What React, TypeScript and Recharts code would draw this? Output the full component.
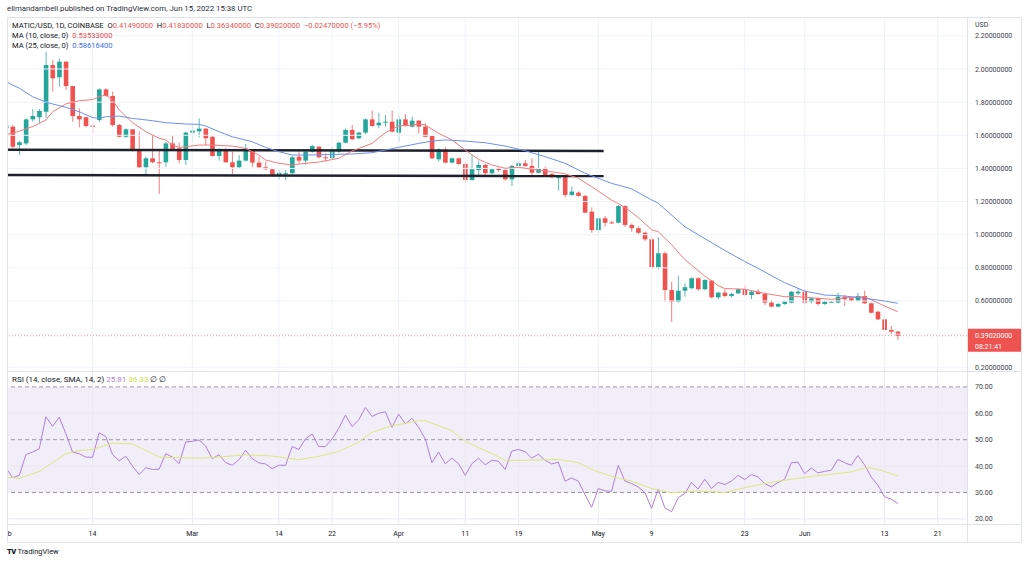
import React from 'react';
import { ComposedChart, Bar, Line, XAxis, YAxis, ReferenceLine, ReferenceArea } from 'recharts';

// ---------- data (day index 0 = Feb 1, 2022) ----------
const opens = [
  1.644, 1.652, 1.541, 1.551, 1.696, 1.709, 1.742, 2.024, 1.95, 2.044,
  1.897, 1.716, 1.709, 1.658, 1.692, 1.877, 1.837, 1.662, 1.591, 1.636,
  1.511, 1.407, 1.461, 1.437, 1.437, 1.551, 1.521, 1.451, 1.616, 1.624,
  1.64, 1.591, 1.475, 1.515, 1.437, 1.407, 1.447, 1.507, 1.435, 1.407,
  1.395, 1.356, 1.367, 1.371, 1.471, 1.447, 1.501, 1.531, 1.467, 1.461,
  1.501, 1.555, 1.632, 1.582, 1.616, 1.696, 1.66, 1.676, 1.682, 1.616,
  1.696, 1.652, 1.688, 1.652, 1.596, 1.455, 1.515, 1.435, 1.461, 1.427,
  1.33, 1.39, 1.421, 1.371, 1.401, 1.39, 1.334, 1.415, 1.431, 1.415,
  1.374, 1.401, 1.367, 1.341, 1.356, 1.24, 1.254, 1.234, 1.139, 1.028,
  1.099, 1.074, 1.072, 1.173, 1.059, 1.039, 1.012, 0.972, 0.803, 0.888,
  0.666, 0.596, 0.662, 0.677, 0.737, 0.671, 0.723, 0.622, 0.65, 0.63,
  0.646, 0.671, 0.636, 0.656, 0.642, 0.59, 0.566, 0.582, 0.59, 0.646,
  0.656, 0.596, 0.616, 0.582, 0.592, 0.59, 0.626, 0.616, 0.602, 0.63,
  0.586, 0.535, 0.489, 0.425, 0.4149,
];
const highs = [
  1.672, 1.662, 1.566, 1.704, 1.759, 1.759, 2.104, 2.054, 2.064, 2.048,
  1.897, 1.763, 1.712, 1.682, 1.883, 1.883, 1.863, 1.668, 1.642, 1.638,
  1.622, 1.471, 1.602, 1.511, 1.561, 1.596, 1.555, 1.622, 1.668, 1.702,
  1.642, 1.593, 1.521, 1.521, 1.501, 1.481, 1.547, 1.511, 1.471, 1.441,
  1.401, 1.39, 1.39, 1.475, 1.501, 1.507, 1.541, 1.535, 1.491, 1.531,
  1.561, 1.642, 1.662, 1.622, 1.702, 1.749, 1.736, 1.722, 1.749, 1.722,
  1.728, 1.712, 1.692, 1.672, 1.598, 1.521, 1.527, 1.465, 1.465, 1.441,
  1.481, 1.447, 1.427, 1.401, 1.405, 1.395, 1.421, 1.447, 1.451, 1.461,
  1.501, 1.411, 1.371, 1.36, 1.36, 1.29, 1.26, 1.24, 1.165, 1.109,
  1.113, 1.084, 1.179, 1.179, 1.068, 1.049, 1.018, 0.984, 0.984, 0.898,
  0.716, 0.751, 0.707, 0.743, 0.743, 0.731, 0.727, 0.656, 0.67, 0.65,
  0.677, 0.697, 0.666, 0.671, 0.65, 0.606, 0.588, 0.602, 0.66, 0.677,
  0.671, 0.622, 0.622, 0.602, 0.6, 0.65, 0.636, 0.626, 0.65, 0.662,
  0.59, 0.541, 0.495, 0.449, 0.4183,
];
const lows = [
  1.628, 1.523, 1.481, 1.541, 1.682, 1.674, 1.704, 1.863, 1.893, 1.873,
  1.682, 1.648, 1.648, 1.602, 1.682, 1.833, 1.652, 1.588, 1.584, 1.501,
  1.401, 1.356, 1.431, 1.246, 1.41, 1.507, 1.431, 1.421, 1.561, 1.588,
  1.541, 1.471, 1.447, 1.435, 1.367, 1.401, 1.441, 1.407, 1.401, 1.39,
  1.354, 1.33, 1.33, 1.367, 1.431, 1.421, 1.495, 1.461, 1.441, 1.451,
  1.491, 1.551, 1.572, 1.576, 1.608, 1.652, 1.642, 1.652, 1.616, 1.561,
  1.652, 1.648, 1.612, 1.588, 1.457, 1.441, 1.431, 1.431, 1.421, 1.314,
  1.326, 1.36, 1.36, 1.367, 1.38, 1.326, 1.294, 1.405, 1.41, 1.36,
  1.371, 1.354, 1.341, 1.266, 1.226, 1.234, 1.23, 1.129, 1.012, 1.012,
  1.048, 1.066, 1.068, 1.048, 1.018, 0.998, 0.962, 0.787, 0.791, 0.596,
  0.475, 0.59, 0.626, 0.67, 0.66, 0.666, 0.616, 0.61, 0.622, 0.622,
  0.642, 0.63, 0.61, 0.638, 0.576, 0.562, 0.562, 0.576, 0.586, 0.636,
  0.582, 0.586, 0.572, 0.576, 0.588, 0.586, 0.572, 0.596, 0.596, 0.582,
  0.525, 0.485, 0.401, 0.395, 0.3634,
];
const closes = [
  1.66, 1.531, 1.558, 1.696, 1.716, 1.747, 2.024, 1.944, 2.044, 1.897,
  1.716, 1.696, 1.656, 1.654, 1.877, 1.837, 1.662, 1.591, 1.636, 1.511,
  1.407, 1.461, 1.437, 1.435, 1.551, 1.515, 1.451, 1.616, 1.628, 1.64,
  1.582, 1.475, 1.511, 1.437, 1.407, 1.447, 1.521, 1.435, 1.407, 1.395,
  1.356, 1.374, 1.371, 1.467, 1.447, 1.501, 1.535, 1.467, 1.465, 1.511,
  1.555, 1.632, 1.576, 1.616, 1.696, 1.656, 1.676, 1.682, 1.622, 1.696,
  1.656, 1.688, 1.652, 1.591, 1.461, 1.515, 1.435, 1.461, 1.427, 1.33,
  1.395, 1.421, 1.371, 1.395, 1.39, 1.334, 1.415, 1.431, 1.415, 1.374,
  1.401, 1.36, 1.347, 1.356, 1.24, 1.26, 1.234, 1.133, 1.028, 1.099,
  1.072, 1.072, 1.173, 1.059, 1.039, 1.012, 0.972, 0.803, 0.888, 0.666,
  0.596, 0.662, 0.683, 0.737, 0.671, 0.727, 0.622, 0.65, 0.63, 0.642,
  0.671, 0.636, 0.656, 0.642, 0.59, 0.566, 0.582, 0.596, 0.656, 0.656,
  0.59, 0.616, 0.582, 0.596, 0.596, 0.626, 0.61, 0.602, 0.63, 0.586,
  0.529, 0.489, 0.425, 0.415, 0.3902,
];

const ma10Days = [0, 1, 4, 6, 7, 9, 11, 13, 14, 15, 16, 17, 19, 21, 23, 24, 25, 26, 27, 29, 31, 34, 36, 38, 39, 41, 43, 45, 47, 50, 52, 55, 57, 59, 61, 62, 63, 65, 67, 69, 71, 73, 75, 77, 80, 82, 84, 86, 88, 91, 93, 95, 97, 98, 100, 102, 105, 107, 108, 111, 114, 117, 119, 122, 124, 127, 129, 130, 132, 134];
const ma10Values = [1.605, 1.612, 1.652, 1.692, 1.742, 1.789, 1.809, 1.815, 1.833, 1.843, 1.813, 1.753, 1.676, 1.622, 1.582, 1.572, 1.541, 1.527, 1.531, 1.541, 1.541, 1.535, 1.521, 1.481, 1.451, 1.431, 1.421, 1.431, 1.438, 1.461, 1.505, 1.551, 1.616, 1.656, 1.662, 1.668, 1.662, 1.612, 1.572, 1.511, 1.455, 1.421, 1.401, 1.407, 1.39, 1.38, 1.367, 1.341, 1.29, 1.209, 1.165, 1.104, 1.03, 1.018, 0.94, 0.85, 0.75, 0.693, 0.675, 0.671, 0.646, 0.626, 0.626, 0.616, 0.61, 0.622, 0.626, 0.607, 0.57, 0.53533];

const ma25Days = [0, 2, 4, 6, 7, 9, 11, 13, 14, 15, 17, 19, 22, 24, 27, 29, 30, 32, 34, 37, 39, 41, 43, 46, 48, 52, 55, 59, 62, 64, 66, 69, 72, 75, 78, 81, 84, 87, 91, 94, 97, 98, 102, 108, 111, 113, 117, 120, 123, 126, 129, 132, 134];
const ma25Values = [1.923, 1.884, 1.833, 1.8, 1.789, 1.769, 1.742, 1.707, 1.702, 1.712, 1.716, 1.702, 1.688, 1.676, 1.668, 1.666, 1.656, 1.622, 1.591, 1.561, 1.527, 1.501, 1.481, 1.481, 1.483, 1.487, 1.495, 1.527, 1.551, 1.565, 1.572, 1.565, 1.555, 1.535, 1.507, 1.471, 1.431, 1.371, 1.31, 1.277, 1.21, 1.19, 1.048, 0.905, 0.838, 0.797, 0.71, 0.66, 0.636, 0.63, 0.616, 0.6, 0.586164];

const rsiValues = [
  39.3, 35.6, 36.5, 44.4, 45.3, 46.6, 58.7, 55.1, 58.5, 52.2,
  45.3, 44.7, 43.4, 43.3, 52.6, 51.2, 44.4, 42.0, 43.8, 40.0,
  36.8, 39.4, 38.7, 38.8, 44.7, 43.4, 40.9, 49.1, 49.4, 49.9,
  47.6, 42.8, 44.3, 41.3, 40.3, 42.4, 46.0, 42.8, 41.2, 40.8,
  39.0, 40.3, 40.3, 47.4, 46.3, 50.3, 52.2, 47.4, 47.4, 50.3,
  54.3, 59.3, 55.0, 57.5, 62.2, 58.8, 60.0, 60.6, 54.7, 59.7,
  56.0, 58.1, 54.7, 50.3, 41.3, 45.3, 40.9, 43.0, 40.9, 36.5,
  40.9, 43.0, 40.5, 42.2, 41.8, 38.7, 45.7, 46.3, 45.5, 43.0,
  44.5, 42.2, 40.8, 41.5, 34.3, 35.5, 34.3, 29.2, 24.4, 31.5,
  30.6, 30.5, 40.3, 34.3, 33.4, 32.1, 30.0, 24.0, 31.3, 24.2,
  22.7, 28.0, 29.6, 33.8, 31.3, 35.0, 31.5, 33.8, 33.0, 34.3,
  36.5, 34.9, 36.8, 35.9, 33.4, 32.1, 33.8, 35.0, 41.3, 41.5,
  37.1, 39.3, 37.4, 38.0, 38.4, 42.5, 41.3, 40.3, 44.0, 40.5,
  35.9, 32.8, 28.4, 27.5, 25.81,
];

const rsiMaDays = [0, 2, 5, 7, 9, 11, 13, 16, 19, 21, 23, 26, 29, 32, 36, 40, 44, 47, 50, 53, 55, 58, 60, 62, 63, 67, 69, 71, 73, 75, 78, 83, 86, 88, 91, 94, 97, 100, 104, 108, 111, 114, 118, 121, 124, 127, 129, 130, 132, 134];
const rsiMaValues = [35.9, 35.3, 38.0, 41.3, 44.7, 45.9, 46.3, 48.7, 48.4, 45.9, 43.4, 43.2, 43.0, 43.4, 44.3, 43.8, 42.4, 43.7, 45.5, 49.1, 52.8, 55.3, 56.2, 57.2, 57.2, 53.4, 49.4, 47.0, 44.8, 42.2, 42.2, 42.5, 41.3, 38.7, 36.1, 34.3, 31.5, 29.9, 30.6, 30.0, 31.8, 33.4, 35.0, 36.1, 36.9, 37.8, 39.3, 39.3, 38.0, 36.33];

// support / resistance lines: [startDay, startPrice, endDay, endPrice]
const upperLevel = [0.15, 1.513, 89.8, 1.505];
const lowerLevel = [0.15, 1.36, 89.8, 1.354];

const timeTickDays = [0, 13, 28, 41, 49, 59, 69, 77, 89, 97, 111, 120, 132, 140];
const timeTickLabels = ['Feb', '14', 'Mar', '14', '22', 'Apr', '11', '19', 'May', '9', '23', 'Jun', '13', '21'];
const priceTicks = [0.2, 0.4, 0.6, 0.8, 1.0, 1.2, 1.4, 1.6, 1.8, 2.0, 2.2];
const priceTickLabels = ['0.20000000', '0.40000000', '0.60000000', '0.80000000', '1.00000000', '1.20000000', '1.40000000', '1.60000000', '1.80000000', '2.00000000', '2.20000000'];
const rsiTicks = [20, 30, 40, 50, 60, 70];
const rsiTickLabels = ['20.00', '30.00', '40.00', '50.00', '60.00', '70.00'];
const rsiGridLevels = [20, 40, 60];
const rsiBandLevels = [30, 50, 70];

// ---------- styling ----------
const FONT = 'Roboto, "Liberation Sans", sans-serif';
const GREEN = '#26a69a';
const RED = '#ef5350';
const GRID = '#f0f3fa';
const FRAME = '#e0e3eb';
const TEXT = '#131722';
const AXIS_TEXT = '#3a3e4a';
const MA10_COLOR = '#f47b7e';
const MA25_COLOR = '#6e8ff2';
const RSI_COLOR = '#b07fdd';
const RSI_MA_COLOR = '#dde77a';
const X_DOMAIN: [number, number] = [0.15, 144.4];
const PRICE_DOMAIN: [number, number] = [0.1774, 2.3078];
const RSI_DOMAIN: [number, number] = [18.06, 75.65];

const lastClose = closes[closes.length - 1];

const Candle = (props: any) => {
  const { x, y, width, height, payload } = props;
  if (!payload || x == null || y == null) return null;
  const { open, high, low, close } = payload;
  const top = Math.min(y, y + height);
  const bottom = Math.max(y, y + height);
  const span = high - low;
  const toY = (p: number) => (span === 0 ? top : top + ((high - p) / span) * (bottom - top));
  const cx = x + width / 2;
  const color = close >= open ? GREEN : RED;
  const bTop = toY(Math.max(open, close));
  const bBot = toY(Math.min(open, close));
  return (
    <g>
      <line x1={cx} x2={cx} y1={top} y2={bottom} stroke={color} strokeOpacity={0.75} strokeWidth={1} />
      <rect x={cx - 2.3} y={bTop} width={4.6} height={Math.max(1, bBot - bTop)} fill={color} />
    </g>
  );
};

const PriceTick = (props: any) => {
  const { x, y, payload } = props;
  // the label next to the last price is covered by the price tag
  if (Math.abs(payload.value - lastClose) < 0.06) return null;
  const idx = priceTicks.indexOf(payload.value);
  return (
    <text x={x + 8} y={y} dy={2.5} fontSize={7} fill={AXIS_TEXT} fontFamily={FONT}>
      {priceTickLabels[idx]}
    </text>
  );
};

const RsiTick = (props: any) => {
  const { x, y, payload } = props;
  const idx = rsiTicks.indexOf(payload.value);
  return (
    <text x={x + 8} y={y} dy={2.5} fontSize={7} fill={AXIS_TEXT} fontFamily={FONT}>
      {rsiTickLabels[idx]}
    </text>
  );
};

const TimeTick = (props: any) => {
  const { x, y, payload } = props;
  const idx = timeTickDays.indexOf(payload.value);
  return (
    <text x={x} y={y + 9} dy={2.5} fontSize={7} fill={TEXT} textAnchor="middle" fontFamily={FONT}>
      {timeTickLabels[idx]}
    </text>
  );
};

const PriceTag = (props: any) => {
  const vb = props.viewBox;
  if (!vb) return null;
  const x = vb.x + vb.width;
  const y = vb.y;
  return (
    <g>
      <rect x={x} y={y - 7} width={54} height={23} fill={RED} />
      <text x={x + 8} y={y} dy={2.5} fontSize={7} fill="#fff" fontFamily={FONT}>
        {lastClose.toFixed(8)}
      </text>
      <text x={x + 8} y={y + 10.5} dy={2.5} fontSize={7} fill="#fff" fontFamily={FONT}>
        08:21:41
      </text>
    </g>
  );
};

const fmt = (v: number) => v.toFixed(8).replace('-', '\u2212');

export default function App() {
  const candleData = opens.map((o, i) => ({
    day: i,
    open: o,
    high: highs[i],
    low: lows[i],
    close: closes[i],
    range: [lows[i], highs[i]],
  }));
  const ma10Data = ma10Days.map((d, i) => ({ day: d, v: ma10Values[i] }));
  const ma25Data = ma25Days.map((d, i) => ({ day: d, v: ma25Values[i] }));
  const rsiData = rsiValues.map((v, i) => ({ day: i, v }));
  const rsiMaData = rsiMaDays.map((d, i) => ({ day: d, v: rsiMaValues[i] }));

  const n = closes.length - 1;
  const o = opens[n], h = highs[n], l = lows[n], c = closes[n];
  const chg = c - o;
  const pct = (chg / o) * 100;

  const redSpan = { color: RED };
  const lineStyle: React.CSSProperties = { position: 'absolute', background: FRAME };
  const legendStyle: React.CSSProperties = { position: 'absolute', left: 12, fontSize: 7.6, lineHeight: '10px', color: TEXT, whiteSpace: 'pre' };

  return (
    <div style={{ position: 'fixed', left: 0, top: 0, width: 1024, height: 565, background: '#fff', overflow: 'hidden', fontFamily: FONT }}>
      <div style={{ position: 'absolute', left: 7, top: 3, fontSize: 7.8, lineHeight: '12px', color: '#2a2e39', whiteSpace: 'pre' }}>
        elimandambell published on TradingView.com, Jun 15, 2022 15:38 UTC
      </div>

      <div style={{ position: 'absolute', left: 7, top: 18 }}>
        <ComposedChart width={1014} height={353} data={candleData} margin={{ top: 0, right: 0, bottom: 0, left: 0 }}>
          <XAxis dataKey="day" type="number" domain={X_DOMAIN} allowDataOverflow hide />
          <YAxis
            orientation="right"
            type="number"
            domain={PRICE_DOMAIN}
            allowDataOverflow
            ticks={priceTicks}
            interval={0}
            width={54}
            axisLine={false}
            tickLine={false}
            tickSize={0}
            tickMargin={0}
            tick={<PriceTick />}
          />
          {priceTicks.map((t) => (
            <ReferenceLine key={'hp' + t} y={t} stroke={GRID} strokeWidth={1} />
          ))}
          {timeTickDays.map((d) => (
            <ReferenceLine key={'vp' + d} x={d} stroke={GRID} strokeWidth={1} />
          ))}
          <ReferenceLine
            segment={[{ x: upperLevel[0], y: upperLevel[1] }, { x: upperLevel[2], y: upperLevel[3] }]}
            stroke="#1e222d"
            strokeWidth={2.5}
            ifOverflow="visible"
          />
          <ReferenceLine
            segment={[{ x: lowerLevel[0], y: lowerLevel[1] }, { x: lowerLevel[2], y: lowerLevel[3] }]}
            stroke="#1e222d"
            strokeWidth={2.5}
            ifOverflow="visible"
          />
          <Bar dataKey="range" barSize={5} shape={<Candle />} isAnimationActive={false} />
          <Line data={ma10Data} dataKey="v" type="linear" stroke={MA10_COLOR} strokeWidth={1} dot={false} activeDot={false} isAnimationActive={false} />
          <Line data={ma25Data} dataKey="v" type="linear" stroke={MA25_COLOR} strokeWidth={1} dot={false} activeDot={false} isAnimationActive={false} />
          <ReferenceLine y={lastClose} stroke={RED} strokeOpacity={0.6} strokeDasharray="1 2" label={<PriceTag />} />
        </ComposedChart>
      </div>

      <div style={{ position: 'absolute', left: 7, top: 372 }}>
        <ComposedChart width={1014} height={170} data={rsiData} margin={{ top: 0, right: 0, bottom: 0, left: 0 }}>
          <XAxis
            dataKey="day"
            type="number"
            domain={X_DOMAIN}
            allowDataOverflow
            ticks={timeTickDays}
            interval={0}
            height={18}
            axisLine={false}
            tickLine={false}
            tickSize={0}
            tickMargin={0}
            tick={<TimeTick />}
          />
          <YAxis
            orientation="right"
            type="number"
            domain={RSI_DOMAIN}
            allowDataOverflow
            ticks={rsiTicks}
            interval={0}
            width={54}
            axisLine={false}
            tickLine={false}
            tickSize={0}
            tickMargin={0}
            tick={<RsiTick />}
          />
          <ReferenceArea y1={30} y2={70} fill="#7e57c2" fillOpacity={0.1} stroke="none" />
          {rsiGridLevels.map((t) => (
            <ReferenceLine key={'hr' + t} y={t} stroke="#ebe8f3" strokeWidth={1} />
          ))}
          {timeTickDays.map((d) => (
            <ReferenceLine key={'vr' + d} x={d} stroke="#ebe8f3" strokeWidth={1} />
          ))}
          {rsiBandLevels.map((t) => (
            <ReferenceLine key={'br' + t} y={t} stroke="#9a97a5" strokeWidth={1} strokeDasharray="4 3" />
          ))}
          <Line dataKey="v" type="linear" stroke={RSI_COLOR} strokeWidth={1} dot={false} activeDot={false} isAnimationActive={false} />
          <Line data={rsiMaData} dataKey="v" type="linear" stroke={RSI_MA_COLOR} strokeWidth={1} dot={false} activeDot={false} isAnimationActive={false} />
        </ComposedChart>
      </div>

      {/* frame & separators */}
      <div style={{ ...lineStyle, left: 7, top: 17, width: 1015, height: 1 }} />
      <div style={{ ...lineStyle, left: 7, top: 542, width: 1015, height: 1 }} />
      <div style={{ ...lineStyle, left: 7, top: 17, width: 1, height: 526 }} />
      <div style={{ ...lineStyle, left: 1021, top: 17, width: 1, height: 526 }} />
      <div style={{ ...lineStyle, left: 7, top: 371, width: 1015, height: 1 }} />
      <div style={{ ...lineStyle, left: 7, top: 524, width: 1015, height: 1 }} />
      <div style={{ ...lineStyle, left: 967, top: 17, width: 1, height: 526 }} />

      {/* legends */}
      <div style={{ ...legendStyle, top: 20.5 }}>
        {'MATIC/USD, 1D, COINBASE  O'}
        <span style={redSpan}>{o.toFixed(8)}</span>
        {'  H'}
        <span style={redSpan}>{h.toFixed(8)}</span>
        {'  L'}
        <span style={redSpan}>{l.toFixed(8)}</span>
        {'  C'}
        <span style={redSpan}>{c.toFixed(8)}</span>
        {'  '}
        <span style={redSpan}>{fmt(chg) + ' (' + pct.toFixed(2).replace('-', '\u2212') + '%)'}</span>
      </div>
      <div style={{ ...legendStyle, top: 31 }}>
        {'MA (10, close, 0)  '}
        <span style={{ color: '#f04a4f' }}>{ma10Values[ma10Values.length - 1].toFixed(8)}</span>
      </div>
      <div style={{ ...legendStyle, top: 41 }}>
        {'MA (25, close, 0)  '}
        <span style={{ color: '#3a6ff5' }}>{ma25Values[ma25Values.length - 1].toFixed(6) + '00'}</span>
      </div>
      <div style={{ position: 'absolute', left: 975, top: 20, fontSize: 7, lineHeight: '10px', color: AXIS_TEXT }}>USD</div>

      <div style={{ ...legendStyle, top: 375, fontSize: 8 }}>
        {'RSI (14, close, SMA, 14, 2) '}
        <span style={{ color: '#b57edc' }}>{rsiValues[rsiValues.length - 1].toFixed(2)}</span>
        {' '}
        <span style={{ color: '#c8e04a' }}>{rsiMaValues[rsiMaValues.length - 1].toFixed(2)}</span>
        {' \u2205 \u2205'}
      </div>

      <div style={{ position: 'absolute', left: 7, top: 546, fontSize: 7.5, lineHeight: '12px', color: TEXT, whiteSpace: 'pre' }}>
        <span style={{ fontWeight: 900, letterSpacing: '-0.5px' }}>TV</span>
        {' TradingView'}
      </div>
    </div>
  );
}
